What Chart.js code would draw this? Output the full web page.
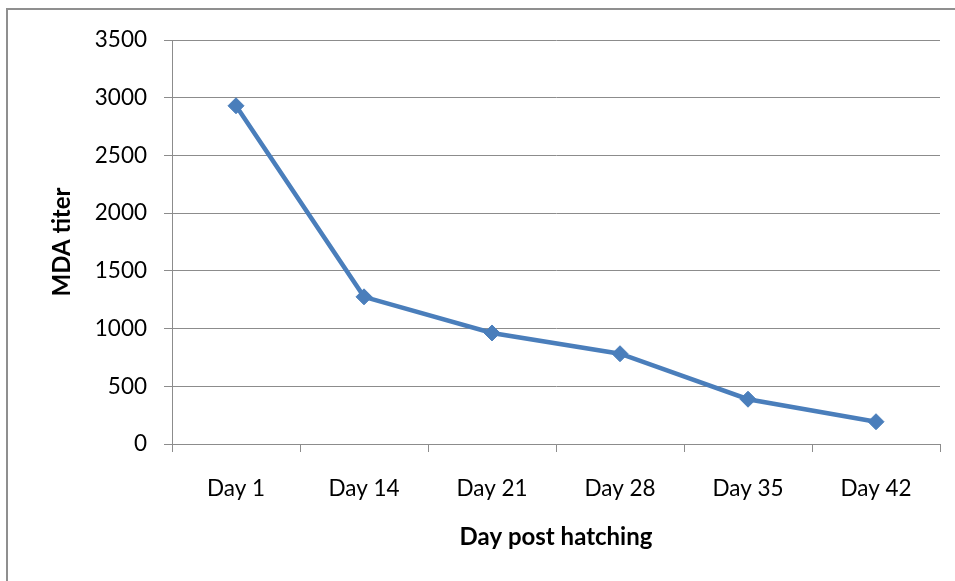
<!DOCTYPE html>
<html>
<head>
<meta charset="utf-8">
<script src="https://cdn.jsdelivr.net/npm/chart.js@4/dist/chart.umd.min.js"></script>
<style>
  html, body { margin: 0; padding: 0; background: #fff; }
  #wrap { position: relative; width: 955px; height: 581px; }
  #frame { position: absolute; left: 6px; top: 8px; right: 0; bottom: 0;
           border-left: 2px solid #8f8f8f; border-top: 2px solid #8f8f8f; pointer-events: none; }
  canvas { position: absolute; left: 0; top: 0; }
</style>
</head>
<body>
<div id="wrap">
  <canvas id="c" width="955" height="581"></canvas>
  <div id="frame"></div>
</div>
<script>
const categories = ["Day 1", "Day 14", "Day 21", "Day 28", "Day 35", "Day 42"];
const mdaTiter = [2930, 1275, 962, 782, 388, 193];
const yTicks = [0, 500, 1000, 1500, 2000, 2500, 3000, 3500];
const xTitle = "Day post hatching";
const yTitle = "MDA titer";

const FONT = "Lato, 'Open Sans', 'DejaVu Sans', sans-serif";
const GRID = "#8c8c8c";

new Chart(document.getElementById("c"), {
  type: "line",
  data: {
    labels: categories,
    datasets: [{
      label: yTitle,
      data: mdaTiter,
      borderColor: "#4a7ebb",
      backgroundColor: "#4a7ebb",
      borderWidth: 4.5,
      tension: 0,
      pointStyle: "rectRot",
      pointRadius: 8,
      pointBorderWidth: 1,
      pointBackgroundColor: "#4a7ebb",
      pointBorderColor: "#4a7ebb",
      fill: false
    }]
  },
  options: {
    responsive: false,
    animation: false,
    devicePixelRatio: 1,
    layout: { padding: { left: 48, top: 40, right: 15, bottom: 29 } },
    plugins: { legend: { display: false }, tooltip: { enabled: false } },
    scales: {
      x: {
        type: "category",
        offset: true,
        grid: { offset: true, drawOnChartArea: false, drawTicks: true, tickLength: 8, color: GRID, lineWidth: 1 },
        border: { display: true, color: GRID, width: 1 },
        ticks: { color: "#000", font: { family: FONT, size: 22.5 }, padding: 23, maxRotation: 0, autoSkip: false },
        title: { display: true, text: xTitle, color: "#000", font: { family: FONT, size: 24, weight: "bold" }, padding: 0 },
        afterFit: (s) => { s.height = 581 - 29 - 444; }
      },
      y: {
        min: 0, max: 3500,
        afterBuildTicks: (s) => { s.ticks = yTicks.map(v => ({ value: v })); },
        grid: { color: GRID, lineWidth: 1, tickLength: 8, drawTicks: true },
        border: { display: true, color: GRID, width: 1 },
        ticks: { color: "#000", font: { family: FONT, size: 22.5 }, padding: 17, callback: (v) => String(v) },
        title: { display: true, text: yTitle, color: "#000", font: { family: FONT, size: 24, weight: "bold" }, padding: 0 },
        afterFit: (s) => { s.width = 172 - 48; }
      }
    }
  }
});
</script>
</body>
</html>
